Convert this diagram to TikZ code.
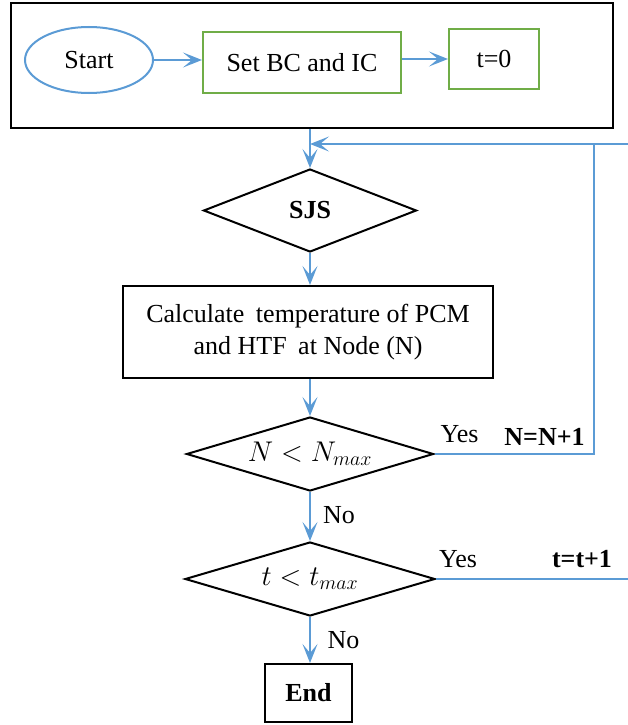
\RequirePackage{fix-cm}
\documentclass[tikz,border=0pt]{standalone}
\usepackage{fontspec}
\setmainfont{Liberation Serif}
\usetikzlibrary{shapes.geometric,arrows.meta}
\definecolor{lblue}{RGB}{91,155,213}
\definecolor{lgreen}{RGB}{112,173,71}
\tikzset{
  txt/.style={font=\fontsize{26}{32}\selectfont, inner sep=0pt},
  mtxt/.style={font=\fontsize{28.5}{32}\selectfont},
  blk/.style={draw=black, line width=2pt, txt, align=center},
  grn/.style={draw=lgreen, line width=2pt, txt, align=center},
  dia/.style={draw=black, line width=2pt, diamond, txt},
  conn/.style={draw=lblue, line width=2pt},
  arr/.style={conn, -{Stealth[length=19pt,width=15pt,inset=9pt]}},
}
\begin{document}
\begin{tikzpicture}[x=1pt,y=-1pt]
\useasboundingbox (0,0) rectangle (628,725);
% top frame
\node[draw=black, line width=2.5pt, minimum width=602pt, minimum height=125pt, inner sep=0pt] (outer) at (312,65.5) {};
\node[draw=lblue, line width=2pt, ellipse, minimum width=128pt, minimum height=66pt, txt] (start) at (89,60) {Start};
\node[grn, minimum width=198pt, minimum height=61pt] (setbc) at (302,62.5) {Set BC and IC};
\node[grn, minimum width=90pt, minimum height=60pt] (t0) at (494,59) {t=0};
% flow
\node[dia, aspect=2.57, minimum width=213pt, minimum height=83pt] (sjs) at (310,210.5) {\textbf{SJS}};
\node[blk, minimum width=370pt, minimum height=92pt] (calc) at (308,332) {Calculate\hspace{5pt} temperature of PCM\\and HTF\hspace{5pt} at Node (N)};
\node[dia, mtxt, aspect=3.34, minimum width=247pt, minimum height=74pt] (ndia) at (310,454) {$N<N_{max}$};
\node[dia, mtxt, aspect=3.38, minimum width=250pt, minimum height=74pt] (tdia) at (310,579) {$t<t_{max}$};
\node[blk, minimum width=87pt, minimum height=58pt] (endb) at (308.5,693) {\textbf{End}};
% coordinates
\coordinate (rtop) at (628,144);
\coordinate (loopc) at (594,144);
\coordinate (rbot) at (628,579);
% connectors
\draw[arr] (start.east) -- (start.east -| setbc.west);
\draw[arr] (setbc.east |- t0.west) -- (t0.west);
\draw[arr] (sjs.north |- outer.south) -- (sjs.north);
\draw[arr] (rtop) -- (rtop -| sjs.north);
\draw[conn] (ndia.east) -| (loopc);
\draw[arr] (sjs.south) -- (sjs.south |- calc.north);
\draw[arr] (calc.south -| ndia.north) -- (ndia.north);
\draw[arr] (ndia.south) -- (tdia.north);
\draw[arr] (tdia.south) -- (tdia.south |- endb.north);
\draw[conn] (tdia.east) -- (rbot);
% labels
\node[txt, anchor=base] (yes1) at (459.5,442) {Yes};
\node[txt, anchor=base] (nn) at (544.5,445) {\textbf{N=N+1}};
\node[txt, anchor=base] (no1) at (339,523) {No};
\node[txt, anchor=base] (yes2) at (458,567) {Yes};
\node[txt, anchor=base] (tt) at (582,567) {\textbf{t=t+1}};
\node[txt, anchor=base] (no2) at (343.5,648) {No};
\end{tikzpicture}
\end{document}
